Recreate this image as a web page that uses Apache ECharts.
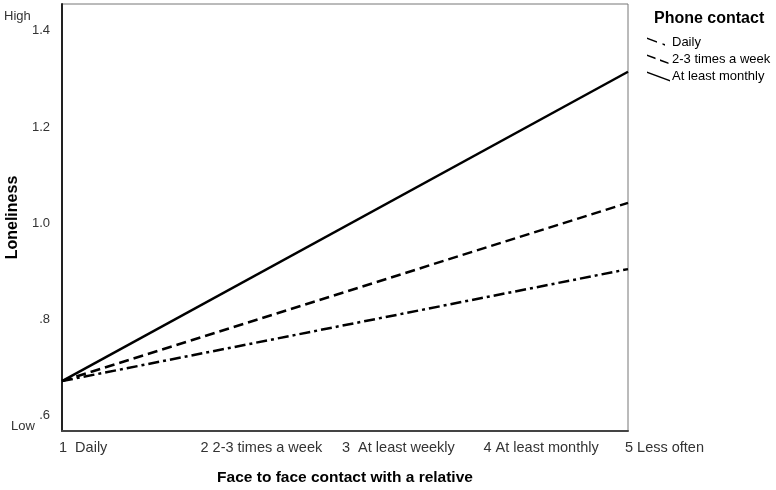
<!DOCTYPE html>
<html><head><meta charset="utf-8">
<script src="https://cdn.jsdelivr.net/npm/echarts@6/dist/echarts.min.js"></script>
<style>html,body{margin:0;padding:0;background:#fff}#c{width:776px;height:490px}</style>
</head><body><div id="c"></div>
<script>
var xValues = [1, 5];
var xTickValues = [1, 2, 3, 4, 5];
var xTickLabels = ['1  Daily', '2 2-3 times a week', '3  At least weekly', '4 At least monthly', '5 Less often'];
var yTickValues = [0.6, 0.8, 1.0, 1.2, 1.4];
var yTickLabels = ['.6', '.8', '1.0', '1.2', '1.4'];
var seriesNames = ['Daily', '2-3 times a week', 'At least monthly'];
var dailyVals = [0.671, 0.904];
var weeklyVals = [0.671, 1.042];
var monthlyVals = [0.671, 1.315];

var font = 'Liberation Sans, Arial, sans-serif';
function pairs(v){ return xValues.map(function(x,i){ return [x, v[i]]; }); }
var chart = echarts.init(document.getElementById('c'));
var iconDashDot = 'path://M0,0 L10,3.7 L10,5.3 L0,1.6 Z M15.5,5.7 L18,6.6 L18,8.2 L15.5,7.3 Z M23,10 L23,10 Z';
var iconDash = 'path://M0,0 L8.5,3.1 L8.5,4.7 L0,1.6 Z M13,4.8 L21.5,7.9 L21.5,9.5 L13,6.4 Z M23,10 L23,10 Z';
var iconSolid = 'path://M0,0 L23,8.4 L23,10 L0,1.6 Z';
chart.setOption({
  animation: false,
  textStyle: {fontFamily: font},
  grid: {left: 62, right: 148, top: 4, bottom: 59, show: true, borderColor: '#777', borderWidth: 1, outerBoundsMode: 'none', containLabel: false},
  legend: {
    orient: 'vertical', left: 647, top: 36, padding: 0, itemGap: 4, itemWidth: 23, itemHeight: 10,
    textStyle: {fontFamily: font, fontSize: 13, color: '#000', padding: [0,0,0,-3]},
    data: [
      {name: seriesNames[0], icon: iconDashDot},
      {name: seriesNames[1], icon: iconDash},
      {name: seriesNames[2], icon: iconSolid}
    ],
    itemStyle: {color: '#000', borderWidth: 0}
  },
  graphic: [
    {type: 'text', left: 654, top: 11, style: {text: 'Phone contact', font: 'bold 16px ' + font, fill: '#000'}},
    {type: 'text', left: 4, top: 10, style: {text: 'High', font: '13px ' + font, fill: '#333'}},
    {type: 'text', left: 11, top: 420, style: {text: 'Low', font: '13px ' + font, fill: '#333'}}
  ],
  xAxis: {
    type: 'value', min: 1, max: 5,
    name: 'Face to face contact with a relative', nameLocation: 'middle', nameGap: 39,
    nameTextStyle: {fontFamily: font, fontSize: 15.5, fontWeight: 'bold', color: '#000'},
    axisLine: {show: true, lineStyle: {color: '#444', width: 2}},
    axisTick: {show: false},
    splitLine: {show: false},
    axisLabel: {
      customValues: xTickValues, align: 'left', margin: 9, fontSize: 14.5, color: '#333', fontFamily: font,
      padding: [0,0,0,-3],
      formatter: function(v){ return xTickLabels[xTickValues.indexOf(v)]; }
    }
  },
  yAxis: {
    type: 'value', min: 0.567, max: 1.456,
    name: 'Loneliness', nameLocation: 'middle', nameGap: 38,
    nameTextStyle: {fontFamily: font, fontSize: 16, fontWeight: 'bold', color: '#000'},
    axisLine: {show: true, lineStyle: {color: '#222', width: 2}},
    axisTick: {show: false},
    splitLine: {show: false},
    axisLabel: {
      customValues: yTickValues, margin: 12, fontSize: 13, color: '#333', fontFamily: font,
      formatter: function(v){
        for (var i=0;i<yTickValues.length;i++) if (Math.abs(yTickValues[i]-v)<1e-6) return yTickLabels[i];
        return '';
      }
    }
  },
  series: [
    {name: seriesNames[0], type: 'line', data: pairs(dailyVals), symbol: 'none', lineStyle: {color: '#000', width: 2.5, type: [11,4,3,4]}, itemStyle: {color: '#000'}},
    {name: seriesNames[1], type: 'line', data: pairs(weeklyVals), symbol: 'none', lineStyle: {color: '#000', width: 2.5, type: [10,5]}, itemStyle: {color: '#000'}},
    {name: seriesNames[2], type: 'line', data: pairs(monthlyVals), symbol: 'none', lineStyle: {color: '#000', width: 2.5}, itemStyle: {color: '#000'}}
  ]
});
</script></body></html>
